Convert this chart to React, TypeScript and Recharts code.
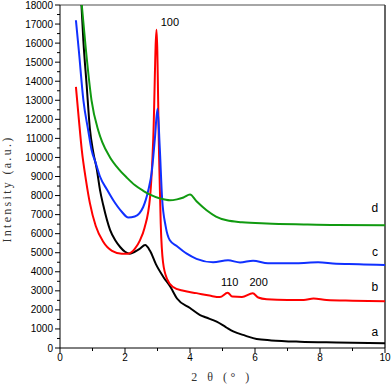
import React from 'react';
import {
  LineChart, Line, XAxis, YAxis, ReferenceLine, ReferenceDot,
} from 'recharts';

// sample a (black)
const aTheta = [0.66, 0.72, 0.82, 0.92, 1.02, 1.13, 1.23, 1.33, 1.54, 1.7, 1.85, 2.0, 2.15, 2.3, 2.45, 2.62, 2.77, 2.95, 3.18, 3.4, 3.6, 4.0, 4.31, 4.5, 4.82, 5.1, 5.33, 5.7, 6.05, 6.5, 7.38, 8.5, 10];
const aInt = [18000, 16100, 13800, 11500, 10300, 9400, 8300, 7500, 6200, 5650, 5300, 5050, 4950, 5050, 5200, 5400, 5100, 4400, 3730, 3200, 2600, 2100, 1730, 1600, 1380, 1100, 870, 650, 470, 400, 330, 290, 250];

// sample b (red)
const bTheta = [0.49, 0.58, 0.67, 0.8, 0.92, 1.1, 1.32, 1.6, 1.9, 2.1, 2.3, 2.46, 2.6, 2.77, 2.87, 2.97, 3.05, 3.1, 3.17, 3.3, 3.48, 3.8, 4.2, 4.6, 4.92, 5.16, 5.3, 5.6, 5.93, 6.1, 6.36, 7.0, 7.5, 7.8, 8.2, 9.0, 10];
const bInt = [13700, 12000, 10400, 8800, 7600, 6400, 5600, 5100, 4950, 4950, 5200, 5650, 6300, 7900, 11000, 16700, 10000, 6500, 4500, 3600, 3200, 3000, 2880, 2750, 2670, 2900, 2700, 2680, 2870, 2650, 2560, 2520, 2520, 2600, 2520, 2480, 2450];

// sample c (blue)
const cTheta = [0.49, 0.58, 0.72, 0.87, 0.97, 1.1, 1.23, 1.45, 1.64, 1.9, 2.1, 2.3, 2.56, 2.72, 2.82, 2.92, 3.0, 3.07, 3.14, 3.25, 3.38, 3.59, 3.9, 4.2, 4.71, 5.17, 5.54, 5.94, 6.4, 7.28, 7.94, 8.5, 9.2, 10];
const cInt = [17200, 15600, 13000, 11400, 10400, 9700, 9000, 8300, 7750, 7150, 6850, 6900, 7400, 8300, 9200, 11000, 12550, 10500, 7900, 6400, 5650, 5350, 4950, 4680, 4500, 4600, 4490, 4580, 4450, 4450, 4500, 4420, 4400, 4350];

// sample d (green)
const dTheta = [0.67, 0.8, 0.97, 1.18, 1.3, 1.54, 1.8, 2.05, 2.3, 2.56, 2.77, 3.08, 3.38, 3.6, 3.8, 4.0, 4.2, 4.51, 4.8, 5.13, 5.6, 6.36, 7.5, 8.5, 10];
const dInt = [18000, 15600, 13000, 11400, 10800, 10000, 9400, 8950, 8550, 8250, 8050, 7850, 7750, 7800, 7900, 8050, 7700, 7230, 6900, 6700, 6600, 6530, 6480, 6450, 6440];

const xMajorTicks = [0, 2, 4, 6, 8, 10];
const xMinorTicks = [1, 3, 5, 7, 9];
const yMajorTicks = [0, 1000, 2000, 3000, 4000, 5000, 6000, 7000, 8000, 9000, 10000, 11000, 12000, 13000, 14000, 15000, 16000, 17000, 18000];
const yMinorTicks = [500, 1500, 2500, 3500, 4500, 5500, 6500, 7500, 8500, 9500, 10500, 11500, 12500, 13500, 14500, 15500, 16500, 17500];

// peak annotations
const peakLabels = ['100', '110', '200'];
const peakTheta = [3.38, 5.22, 6.11];
const peakInt = [17080, 3450, 3450];

// curve names at right end
const curveNames = ['a', 'b', 'c', 'd'];
const curveLabelTheta = 9.69;
const curveLabelInt = [855, 3215, 5050, 7380];

const series = [
  { key: 'a', theta: aTheta, val: aInt, color: '#000000' },
  { key: 'b', theta: bTheta, val: bInt, color: '#ff0000' },
  { key: 'c', theta: cTheta, val: cInt, color: '#1030ff' },
  { key: 'd', theta: dTheta, val: dInt, color: '#109a10' },
];

const toRows = (theta: number[], val: number[]) => theta.map((t, i) => ({ x: t, y: val[i] }));

const XTick = ({ x, y, payload }: any) => {
  const major = xMajorTicks.includes(payload.value);
  return (
    <g>
      <line x1={x} x2={x} y1={y} y2={y + (major ? 5 : 3)} stroke="#000" />
      {major && (
        <text x={x} y={y + 13} textAnchor="middle" fontSize={10} fontFamily="Liberation Sans, Arial" fill="#000">
          {payload.value}
        </text>
      )}
    </g>
  );
};

const YTick = ({ x, y, payload }: any) => {
  const major = payload.value % 1000 === 0;
  return (
    <g>
      <line x1={x} x2={x - (major ? 5 : 3)} y1={y} y2={y} stroke="#000" />
      {major && (
        <text x={x - 7} y={y + 3.5} textAnchor="end" fontSize={10} fontFamily="Liberation Sans, Arial" fill="#000">
          {payload.value}
        </text>
      )}
    </g>
  );
};

// plain black text centred on the reference point
const markText = (text: string, size: number) => ({ viewBox }: any) => {
  const cx = viewBox.x + (viewBox.width || 0) / 2;
  const cy = viewBox.y + (viewBox.height || 0) / 2;
  return (
    <text x={cx} y={cy + size * 0.36} textAnchor="middle" fontSize={size} fontFamily="Liberation Sans, Arial" fill="#000">
      {text}
    </text>
  );
};

export default function App() {
  return (
    <div style={{ position: 'absolute', left: 0, top: 0, background: '#fff' }}>
      <LineChart width={392} height={385} margin={{ top: 5, right: 7, left: 0, bottom: 0 }}>
        <XAxis
          type="number"
          dataKey="x"
          domain={[0, 10]}
          ticks={[...xMajorTicks, ...xMinorTicks]}
          interval={0}
          tick={<XTick />}
          tickLine={false}
          tickSize={0}
          tickMargin={0}
          height={37}
          stroke="#000"
          allowDataOverflow
          label={{
            content: () => (
              <text x={222} y={381} textAnchor="middle" fontSize={12} fontFamily="Liberation Serif, serif" letterSpacing={3.5} fill="#333">
                2 θ (° )
              </text>
            ),
          }}
        />
        <YAxis
          type="number"
          domain={[0, 18000]}
          ticks={[...yMajorTicks, ...yMinorTicks]}
          interval={0}
          tick={<YTick />}
          tickLine={false}
          tickSize={0}
          tickMargin={0}
          width={60}
          stroke="#000"
          allowDataOverflow
          label={{
            content: () => (
              <text
                x={11}
                y={189}
                textAnchor="middle"
                fontSize={12}
                fontFamily="Liberation Serif, serif"
                letterSpacing={2.3}
                fill="#333"
                transform="rotate(-90 11 189)"
              >
                Intensity (a.u.)
              </text>
            ),
          }}
        />
        <ReferenceLine y={18000} stroke="#888" strokeWidth={1.5} />
        <ReferenceLine x={10} stroke="#333" strokeWidth={1.5} />
        {series.map((s) => (
          <Line
            key={s.key}
            data={toRows(s.theta, s.val)}
            dataKey="y"
            type="monotone"
            stroke={s.color}
            strokeWidth={2}
            dot={false}
            isAnimationActive={false}
          />
        ))}
        {peakLabels.map((p, i) => (
          <ReferenceDot
            key={p}
            x={peakTheta[i]}
            y={peakInt[i]}
            r={0}
            stroke="none"
            fill="none"
            label={{ content: markText(p, 11) }}
          />
        ))}
        {curveNames.map((n, i) => (
          <ReferenceDot
            key={n}
            x={curveLabelTheta}
            y={curveLabelInt[i]}
            r={0}
            stroke="none"
            fill="none"
            label={{ content: markText(n, 12) }}
          />
        ))}
      </LineChart>
    </div>
  );
}
